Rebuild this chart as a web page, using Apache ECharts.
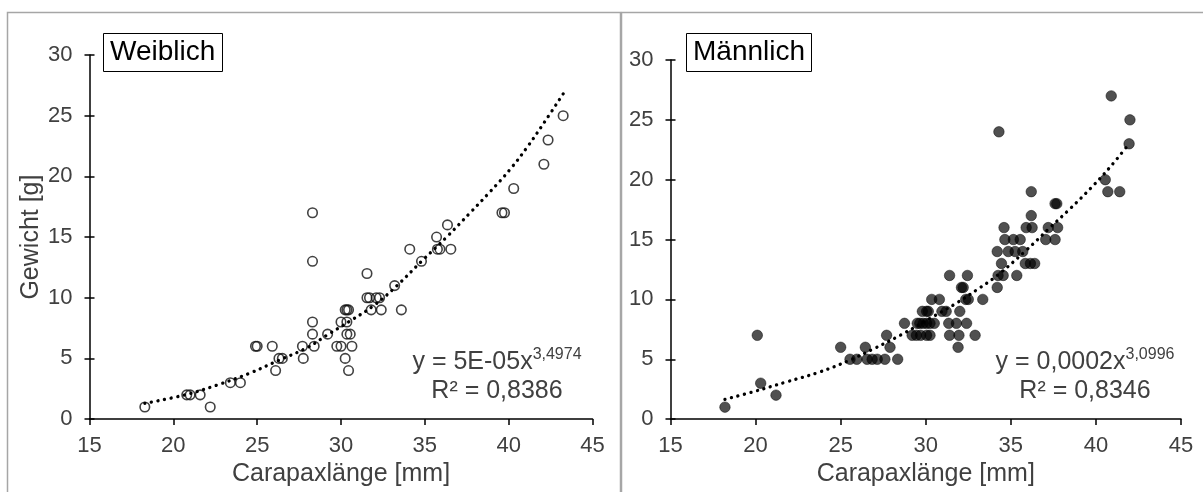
<!DOCTYPE html>
<html><head><meta charset="utf-8">
<script src="https://cdn.jsdelivr.net/npm/echarts@6/dist/echarts.min.js"></script>
<style>html,body{margin:0;padding:0;background:#fff}#c{width:1203px;height:492px}</style>
</head><body><div id="c"></div>
<script>
// ---- text ----
const panelTitles = ['Weiblich', 'Männlich'];
const xAxisName = 'Carapaxlänge [mm]';
const yAxisName = 'Gewicht [g]';
const femaleEq = ['y = 5E-05x', '3,4974', 'R² = 0,8386'];
const maleEq = ['y = 0,0002x', '3,0996', 'R² = 0,8346'];

// ---- axis ranges ----
const xRange = [15, 45, 5];   // min, max, interval
const yRange = [0, 30, 5];

// ---- data: [Carapaxlänge mm, Gewicht g] ----
const female = [
  [18.3,1],[20.8,2],[21.0,2],[21.6,2],[22.2,1],[23.4,3],[24.0,3],[24.9,6],[25.0,6],[25.9,6],
  [26.1,4],[26.3,5],[26.5,5],[27.7,6],[27.75,5],[28.3,17],[28.3,13],[28.3,8],[28.3,7],[28.4,6],
  [29.2,7],[29.75,6],[30.0,6],[30.0,8],[30.25,9],[30.35,9],[30.45,9],[30.35,8],[30.35,7],[30.55,7],
  [30.25,5],[30.45,4],[30.65,6],[31.55,12],[31.55,10],[31.7,10],[31.8,9],[32.1,10],[32.3,10],[32.4,9],
  [33.2,11],[33.6,9],[34.1,14],[34.8,13],[35.7,15],[35.75,14],[35.9,14],[36.35,16],[36.55,14],
  [39.6,17],[39.75,17],[40.3,19],[42.1,21],[42.35,23],[43.25,25]
];
const male = [
  [18.2,1],[21.2,2],[20.3,3],[20.1,7],
  [25.55,5],[25.95,5],[26.55,5],[26.85,5],[27.15,5],[27.6,5],[28.35,5],
  [25.0,6],[26.45,6],[27.9,6],[31.9,6],
  [27.7,7],[29.2,7],[29.45,7],[29.7,7],[30.05,7],[30.25,7],[31.4,7],[31.95,7],[32.9,7],
  [28.75,8],[29.5,8],[29.65,8],[29.85,8],[30.05,8],[30.25,8],[30.5,8],[31.35,8],[31.8,8],[32.4,8],
  [29.8,9],[30.05,9],[30.15,9],[30.95,9],[31.2,9],[32.0,9],
  [30.35,10],[30.8,10],[32.35,10],[32.5,10],[33.35,10],
  [32.1,11],[32.2,11],[34.2,11],
  [31.4,12],[32.45,12],[34.25,12],[34.55,12],[35.35,12],
  [34.45,13],[35.85,13],[36.15,13],[36.4,13],
  [34.2,14],[34.85,14],[35.25,14],[35.7,14],
  [34.65,15],[35.15,15],[35.55,15],[37.05,15],[37.6,15],
  [34.6,16],[35.9,16],[36.25,16],[37.2,16],[37.75,16],
  [36.2,17],[37.6,18],[37.7,18],
  [36.2,19],[40.7,19],[41.4,19],[40.55,20],[41.95,23],[34.3,24],[42.0,25],[40.9,27]
];
// power trend lines
const femaleTrend = [
  [18.3,1.3],[20.7,2.0],[22.6,2.8],[24.5,3.75],[26.3,4.85],[28.0,5.9],[29.2,6.95],[30.5,8.05],
  [32.0,9.4],[33.3,10.95],[34.8,13.0],[36.3,15.0],[37.7,17.0],[38.9,18.75],[40.1,20.6],
  [41.1,22.4],[42.1,24.4],[43.3,26.9]
];
const maleTrend = [
  [18.2,1.65],[19.9,2.3],[21.8,3.1],[23.8,3.95],[25.5,4.9],[26.9,5.85],[28.5,7.0],[30.6,8.7],
  [31.7,9.6],[33.0,10.8],[34.2,12.0],[35.9,14.1],[37.3,16.0],[38.5,17.6],[39.7,19.3],
  [40.8,21.0],[41.95,23.0]
];

// ---- styling ----
const FONT = '"Liberation Sans", Arial, sans-serif';
const LABEL = '#404040';
const AX = {color: '#000', width: 1.5};

function xAxisFor(grid) {
  return {
    gridIndex: grid, type: 'value', min: xRange[0], max: xRange[1], interval: xRange[2],
    axisLine: {show: true, lineStyle: AX},
    axisTick: {show: true, length: 6, lineStyle: AX},
    axisLabel: {fontSize: 22, color: LABEL, margin: 16, fontFamily: FONT},
    splitLine: {show: false},
    name: xAxisName, nameLocation: 'middle', nameGap: 36,
    nameTextStyle: {fontSize: 25, color: LABEL, fontFamily: FONT}
  };
}
function yAxisFor(grid, withName) {
  return [{
    gridIndex: grid, type: 'value', position: 'left', min: yRange[0], max: yRange[1], interval: yRange[2],
    axisLine: {show: true, lineStyle: AX},
    axisTick: {show: true, length: 5, lineStyle: AX},
    axisLabel: {fontSize: 22, color: LABEL, margin: 17, fontFamily: FONT},
    splitLine: {show: false},
    name: withName ? yAxisName : '', nameLocation: 'middle', nameGap: 46,
    nameTextStyle: {fontSize: 25, color: LABEL, fontFamily: FONT}
  }, {
    gridIndex: grid, type: 'value', position: 'left', min: yRange[0], max: yRange[1], interval: yRange[2],
    axisLine: {show: false},
    axisTick: {show: true, inside: true, length: 5, lineStyle: AX},
    axisLabel: {show: false}, splitLine: {show: false}
  }];
}

function eqGraphics(eq, cx) {
  return [{
    type: 'text', x: cx, y: 362, silent: true,
    style: {
      text: '{m|' + eq[0] + '}{s|' + eq[1] + '}',
      align: 'center', verticalAlign: 'middle',
      rich: {
        m: {fontSize: 25, fontFamily: FONT, fill: LABEL, lineHeight: 30},
        s: {fontSize: 16, fontFamily: FONT, fill: LABEL, lineHeight: 16, verticalAlign: 'top'}
      }
    }
  }, {
    type: 'text', x: cx, y: 391, silent: true,
    style: {text: eq[2], fontSize: 25, fontFamily: FONT, fill: LABEL, align: 'center', verticalAlign: 'middle'}
  }];
}

const trendStyle = {color: '#000', width: 3.3, type: [0.1, 6.6], cap: 'round'};

const option = {
  animation: false,
  backgroundColor: '#fff',
  textStyle: {fontFamily: FONT},
  title: [
    {text: panelTitles[0], left: 103, top: 33},
    {text: panelTitles[1], left: 686, top: 33}
  ].map(t => Object.assign(t, {
    padding: [3, 7, 3, 7], borderColor: '#000', borderWidth: 1,
    textStyle: {fontSize: 28, fontWeight: 'normal', color: '#000', fontFamily: FONT, lineHeight: 33}
  })),
  grid: [
    {left: 89.5, top: 55, width: 503, height: 364.3},
    {left: 670.5, top: 60, width: 510.5, height: 359.3}
  ],
  xAxis: [xAxisFor(0), xAxisFor(1)],
  yAxis: [...yAxisFor(0, true), ...yAxisFor(1, false)],
  series: [
    {type: 'scatter', xAxisIndex: 0, yAxisIndex: 0, data: female, symbol: 'circle', symbolSize: 9.5,
     itemStyle: {color: 'rgba(0,0,0,0)', borderColor: '#111', borderWidth: 1.6}, z: 2},
    {type: 'line', xAxisIndex: 0, yAxisIndex: 0, data: femaleTrend, smooth: 0.4, showSymbol: false,
     lineStyle: trendStyle, z: 3},
    {type: 'scatter', xAxisIndex: 1, yAxisIndex: 2, data: male, symbol: 'circle', symbolSize: 10.5,
     itemStyle: {color: 'rgba(0,0,0,0.86)', borderColor: 'rgba(0,0,0,0.75)', borderWidth: 0.8}, z: 2},
    {type: 'line', xAxisIndex: 1, yAxisIndex: 2, data: maleTrend, smooth: 0.4, showSymbol: false,
     lineStyle: trendStyle, z: 3}
  ],
  graphic: [
    {type: 'rect', silent: true, z: -10, shape: {x: 7.5, y: 12.5, width: 613, height: 495},
     style: {fill: 'none', stroke: '#a6a6a6', lineWidth: 1.5}},
    {type: 'rect', silent: true, z: -10, shape: {x: 621.5, y: 12.5, width: 600, height: 495},
     style: {fill: 'none', stroke: '#a6a6a6', lineWidth: 1.5}},
    ...eqGraphics(femaleEq, 497),
    ...eqGraphics(maleEq, 1085)
  ]
};

const chart = echarts.init(document.getElementById('c'), null, {renderer: 'canvas'});
chart.setOption(option);
</script>
</body></html>
